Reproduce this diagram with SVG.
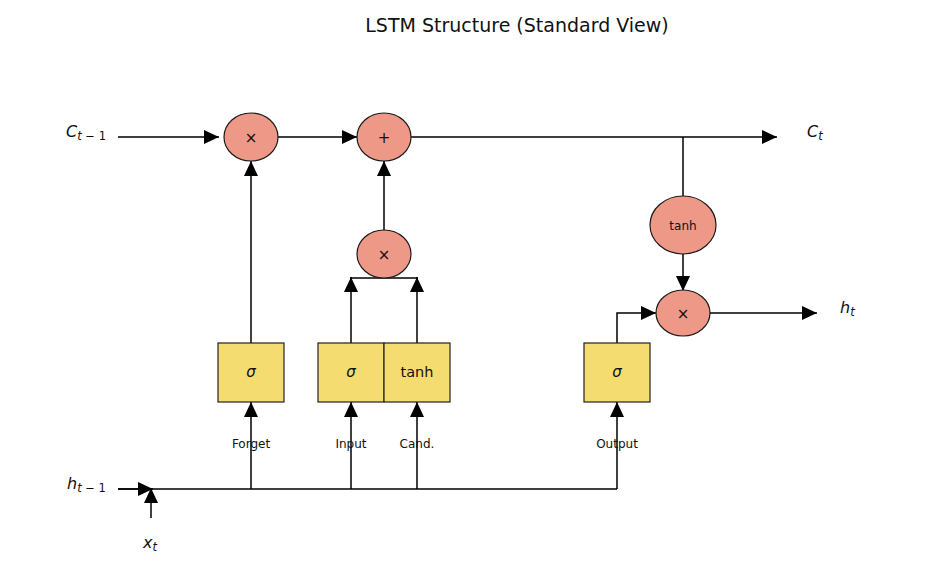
<svg xmlns="http://www.w3.org/2000/svg" width="943" height="577" viewBox="0 0 943 577">
<style>
text{font-family:"DejaVu Sans",sans-serif;fill:#111}
.op{fill:#ee9888;stroke:#1a1a1a;stroke-width:1.2}
.gate{fill:#f5dc70;stroke:#222;stroke-width:1.2}
.ln{fill:none;stroke:#000;stroke-width:1.5}
.math{font-size:16px;font-style:italic}
.sub{font-size:11.5px}
.lbl{font-size:12px;text-anchor:middle}
.sym{font-size:15px;text-anchor:middle}
</style>
<defs>
<marker id="ah" markerUnits="userSpaceOnUse" markerWidth="16" markerHeight="14" refX="15" refY="7" orient="auto">
<path d="M0,0 L15,7 L0,14 Z" fill="#000"/>
</marker>
</defs>
<rect width="943" height="577" fill="#fff"/>
<text x="517" y="32" font-size="19" text-anchor="middle">LSTM Structure (Standard View)</text>

<g id="connectors">
<line class="ln" x1="118" y1="137" x2="219" y2="137" marker-end="url(#ah)"/>
<line class="ln" x1="278" y1="137" x2="357" y2="137" marker-end="url(#ah)"/>
<line class="ln" x1="411" y1="137" x2="777" y2="137" marker-end="url(#ah)"/>
<line class="ln" x1="683" y1="137" x2="683" y2="196"/>
<line class="ln" x1="683" y1="254" x2="683" y2="291" marker-end="url(#ah)"/>
<line class="ln" x1="710" y1="313" x2="817" y2="313" marker-end="url(#ah)"/>
<line class="ln" x1="251" y1="343" x2="251" y2="161" marker-end="url(#ah)"/>
<line class="ln" x1="384" y1="230" x2="384" y2="161" marker-end="url(#ah)"/>
<line class="ln" x1="384" y1="278" x2="384" y2="274"/>
<line class="ln" x1="350" y1="278" x2="418" y2="278"/>
<line class="ln" x1="351" y1="343" x2="351" y2="277" marker-end="url(#ah)"/>
<line class="ln" x1="417" y1="343" x2="417" y2="277" marker-end="url(#ah)"/>
<polyline class="ln" points="617,343 617,313 656,313" marker-end="url(#ah)"/>
<line class="ln" x1="118" y1="489" x2="617" y2="489"/>
<line class="ln" x1="118" y1="489" x2="153" y2="489" marker-end="url(#ah)"/>
<line class="ln" x1="151" y1="518" x2="151" y2="488" marker-end="url(#ah)"/>
<line class="ln" x1="251" y1="489" x2="251" y2="402" marker-end="url(#ah)"/>
<line class="ln" x1="351" y1="489" x2="351" y2="402" marker-end="url(#ah)"/>
<line class="ln" x1="417" y1="489" x2="417" y2="402" marker-end="url(#ah)"/>
<line class="ln" x1="617" y1="489" x2="617" y2="402" marker-end="url(#ah)"/>
</g>

<g id="forget_mul"><ellipse class="op" cx="251" cy="137" rx="27" ry="24"/><text class="sym" x="251" y="143">×</text></g>
<g id="add"><ellipse class="op" cx="384" cy="137" rx="27" ry="24"/><text class="sym" x="384" y="143">+</text></g>
<g id="input_mul"><ellipse class="op" cx="384" cy="254" rx="27" ry="24"/><text class="sym" x="384" y="260">×</text></g>
<g id="tanh_c"><ellipse class="op" cx="683" cy="225" rx="33" ry="29"/><text x="683" y="229.5" font-size="12" text-anchor="middle">tanh</text></g>
<g id="output_mul"><ellipse class="op" cx="683" cy="313" rx="27" ry="23"/><text class="sym" x="683" y="319">×</text></g>

<g id="forget_gate"><rect class="gate" x="218" y="343" width="66" height="59"/><text class="sym math" x="251" y="377">σ</text></g>
<g id="input_gate"><rect class="gate" x="318" y="343" width="66" height="59"/><text class="sym math" x="351" y="377">σ</text></g>
<g id="cand_gate"><rect class="gate" x="384" y="343" width="66" height="59"/><text x="417" y="377" font-size="14.5" text-anchor="middle">tanh</text></g>
<g id="output_gate"><rect class="gate" x="584" y="343" width="66" height="59"/><text class="sym math" x="617" y="377">σ</text></g>

<g id="labels">
<text class="lbl" x="251" y="448">Forget</text>
<text class="lbl" x="351" y="448">Input</text>
<text class="lbl" x="417" y="448">Cand.</text>
<text class="lbl" x="617" y="448">Output</text>
<text x="66" y="137"><tspan class="math">C</tspan><tspan class="sub" dy="3"><tspan font-style="italic">t</tspan> − 1</tspan></text>
<text x="807" y="137"><tspan class="math">C</tspan><tspan class="sub math" font-size="11.5" dy="3">t</tspan></text>
<text x="67" y="489"><tspan class="math">h</tspan><tspan class="sub" dy="3"><tspan font-style="italic">t</tspan> − 1</tspan></text>
<text x="840" y="313"><tspan class="math">h</tspan><tspan class="sub math" font-size="11.5" dy="3">t</tspan></text>
<text x="143" y="548"><tspan class="math">x</tspan><tspan class="sub math" font-size="11.5" dy="3">t</tspan></text>
</g>
</svg>
